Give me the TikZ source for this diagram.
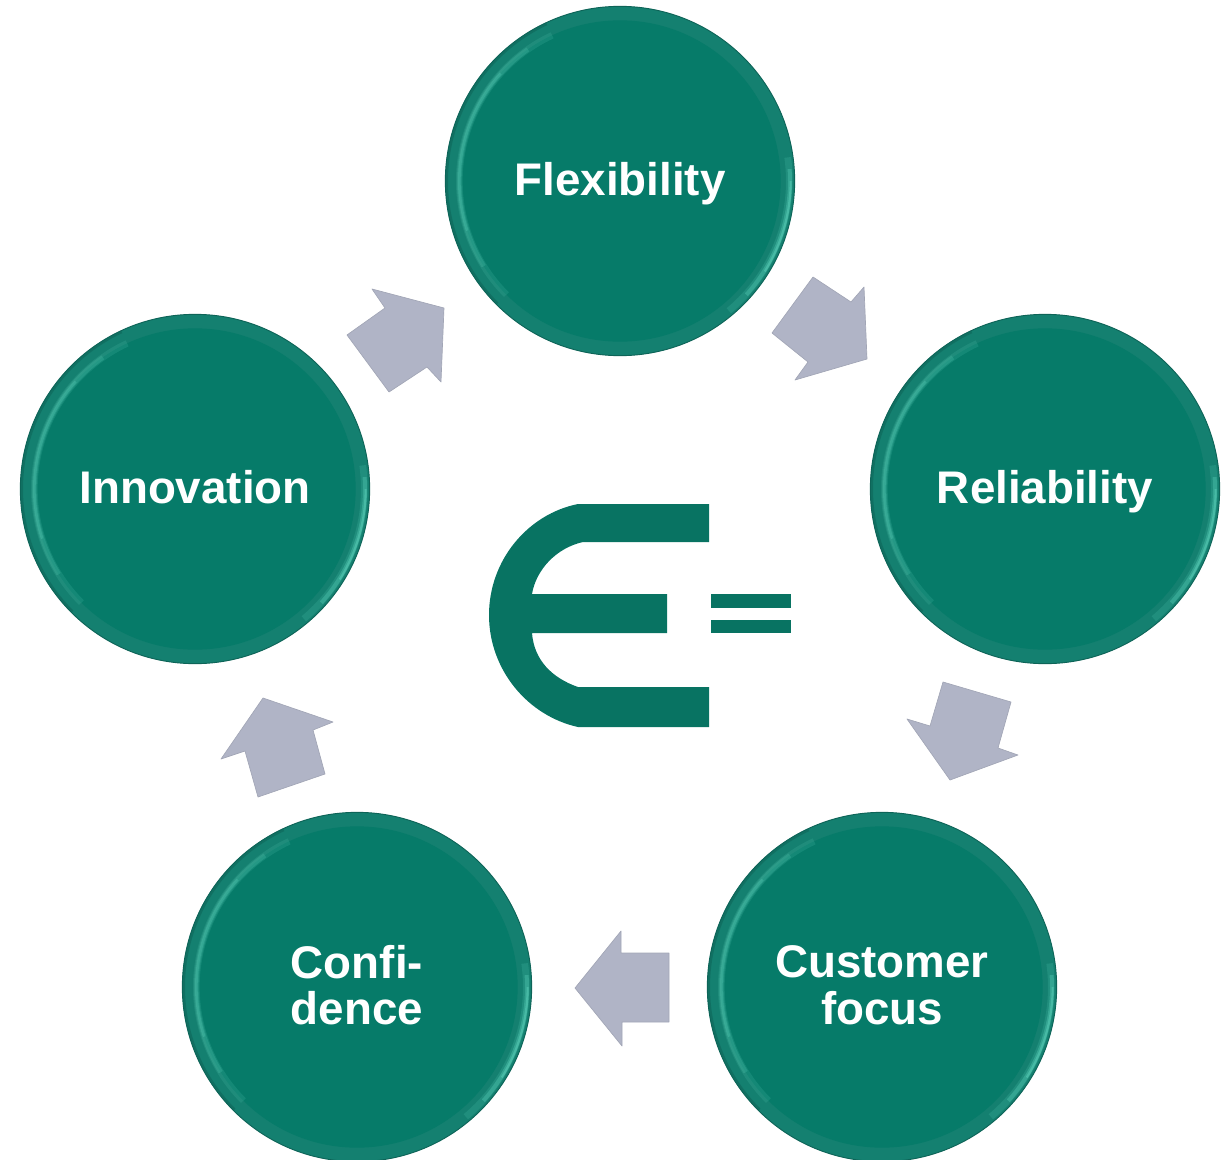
\documentclass[tikz,border=0pt]{standalone}
\usepackage{fontspec}
\setmainfont{Liberation Sans}
\definecolor{discRim}{RGB}{20,128,112}
\definecolor{discFace}{RGB}{6,123,105}
\definecolor{discEdge}{RGB}{14,100,88}
\definecolor{discGlow}{RGB}{84,200,178}
\definecolor{flowGrey}{RGB}{176,180,198}
\definecolor{logoGreen}{RGB}{8,115,98}
% soft arc on a disc: {opacity}{width}{radius}{start}{end}
\newcommand{\discarc}[5]{\draw[discGlow, opacity=#1, line width=#2] (path picture bounding box.center) ++(#4:#3) arc[start angle=#4, end angle=#5, radius=#3];}
\tikzset{
	every picture/.style={line width=0.75pt},
	disc/.style={circle, minimum size=262pt, inner sep=0pt, fill=discRim, draw=discEdge, line width=0.7pt,
		text=white, font=\fontsize{34.3pt}{35pt}\selectfont\bfseries, align=center,
		path picture={
			\fill[discFace] (path picture bounding box.center) circle (120.5pt);
			\discarc{0.18}{5pt}{120.5pt}{115}{225}
			\discarc{0.25}{3.5pt}{120.5pt}{125}{212}
			\discarc{0.35}{2pt}{120.5pt}{138}{198}
			\discarc{0.2}{5pt}{127pt}{8}{-50}
			\discarc{0.4}{3pt}{127.5pt}{4}{-42}
			\discarc{0.6}{1.6pt}{128pt}{0}{-32}
			\draw[discEdge, opacity=0.55, line width=3pt] (path picture bounding box.center) ++(115:130.5pt) arc[start angle=115, end angle=225, radius=130.5pt];
		}},
	oneline/.style={text height=25pt, text depth=4pt},
	twolines/.style={text depth=3pt},
	flow/.style={draw=flowGrey!92!black, line width=0.5pt, line join=round, fill=flowGrey},
	logo/.style={fill=logoGreen, draw=none}}

\begin{document}
\begin{tikzpicture}[x=0.75pt,y=0.75pt,yscale=-1,xscale=1]
	\useasboundingbox (0,0) rectangle (1228,1160);

	% Discs
	\node [disc, oneline] (flexibility) at (620,181) {Flexibility};
	\node [disc, oneline] (reliability) at (1045,489) {Reliability};
	\node [disc, twolines] (customer) at (882,987) {Customer\\focus};
	\node [disc, twolines] (confidence) at (357,987) {Confi-\\dence};
	\node [disc, oneline] (innovation) at (195,489) {Innovation};

	% Arrow Flexibility to Reliability
	\draw [flow] (813,277) -- (851,302) -- (864,287) -- (867,359) -- (795,380) -- (808,362) -- (772,333) -- cycle;
	% Arrow Reliability to Customer focus
	\draw [flow] (943,682) -- (1011,702) -- (998,748) -- (1018,755) -- (950,780) -- (907,719) -- (930,726) -- cycle;
	% Arrow Customer focus to Confidence
	\draw [flow] (669,953) -- (621,953) -- (621,931) -- (575,988) -- (622,1046) -- (622,1022) -- (669,1022) -- cycle;
	% Arrow Confidence to Innovation
	\draw [flow] (263,698) -- (333,722) -- (313,730) -- (325,774) -- (258,797) -- (245,751) -- (221,759) -- cycle;
	% Arrow Innovation to Flexibility
	\draw [flow] (372,289) -- (444,308) -- (441,382) -- (427,367) -- (389,392) -- (347,335) -- (385,308) -- cycle;

	% Logo
	\fill [logo] (578,504) .. controls (528,514) and (489,560) .. (489,615) .. controls (489,670) and (528,716) .. (578,727) -- (709,727) -- (709,687) -- (578,687) .. controls (552,678) and (534,660) .. (532,633) -- (667,633) -- (667,594) -- (532,594) .. controls (536,570) and (556,548) .. (583,542) -- (709,542) -- (709,504) -- cycle;
	\fill [logo] (711,594) rectangle (791,608);
	\fill [logo] (711,620) rectangle (791,633);
\end{tikzpicture}
\end{document}
